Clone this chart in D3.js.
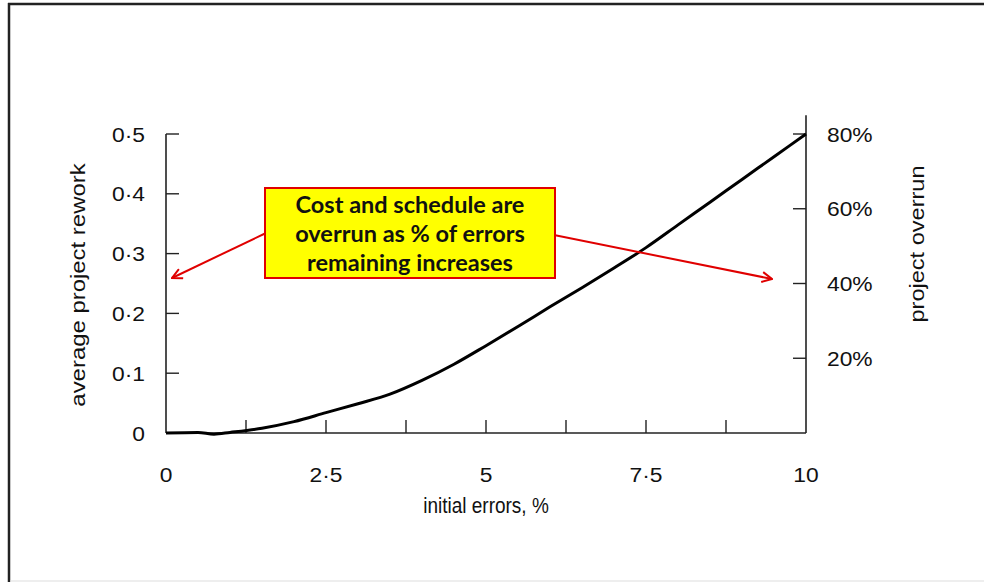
<!DOCTYPE html>
<html><head><meta charset="utf-8">
<script src="https://cdn.jsdelivr.net/npm/d3@7"></script>
<style>
html,body{margin:0;padding:0;background:#fff;}
svg{display:block;}
</style></head>
<body>
<svg id="chart" width="984" height="582"></svg>
<script>
// ---- data ----
const errorsPct = [0, 0.5, 0.75, 1, 1.5, 2, 2.5, 3, 3.5, 4, 4.5, 5, 5.5, 6, 6.5, 7, 7.5, 8, 8.5, 9, 9.5, 10];
const avgRework = [0, 0.001, -0.002, 0.001, 0.008, 0.019, 0.034, 0.049, 0.065, 0.088, 0.115, 0.146, 0.178, 0.211, 0.243, 0.276, 0.31, 0.348, 0.386, 0.424, 0.462, 0.5];
const xTickValues = [0, 1.25, 2.5, 3.75, 5, 6.25, 7.5, 8.75, 10];
const xTickLabels = ["0", "2·5", "5", "7·5", "10"];
const xLabelValues = [0, 2.5, 5, 7.5, 10];
const leftTickValues = [0, 0.1, 0.2, 0.3, 0.4, 0.5];
const leftTickLabels = ["0", "0·1", "0·2", "0·3", "0·4", "0·5"];
const rightTickValues = [20, 40, 60, 80];
const rightTickLabels = ["20%", "40%", "60%", "80%"];
const calloutLines = ["Cost and schedule are", "overrun as % of errors", "remaining increases"];

const svg = d3.select("#chart");
const axisFont = "'Liberation Sans', Arial, Helvetica, sans-serif";

// frame
svg.append("line").attr("x1", 8).attr("x2", 984).attr("y1", 4).attr("y2", 4).attr("stroke", "#222").attr("stroke-width", 2.5);
svg.append("line").attr("x1", 9).attr("x2", 9).attr("y1", 3).attr("y2", 582).attr("stroke", "#222").attr("stroke-width", 2.5);
svg.append("line").attr("x1", 10).attr("x2", 984).attr("y1", 581).attr("y2", 581).attr("stroke", "#ddd").attr("stroke-width", 1);

// scales
const x = d3.scaleLinear().domain([0, 10]).range([166, 806]);
const yL = d3.scaleLinear().domain([0, 0.5]).range([433, 134]);
const yR = d3.scaleLinear().domain([0, 80]).range([433, 134]);

const axisColor = "#222";
const tickLen = 13;
const sx = 1.2; // glyph widening for tick labels (scan look)
const sy = 1.1;

function label(g, tx, ty, txt, anchor) {
  g.append("text")
    .attr("transform", `translate(${tx},${ty}) scale(${sx},${sy})`)
    .attr("dy", "0.36em").attr("text-anchor", anchor)
    .attr("font-family", axisFont).attr("font-size", 19).attr("fill", "#111")
    .text(txt);
}

// left axis
const gL = svg.append("g").attr("transform", `translate(${x(0)},0)`);
gL.append("line").attr("x1", 0).attr("x2", 0).attr("y1", yL(0)).attr("y2", yL(0.5)).attr("stroke", axisColor).attr("stroke-width", 1.6);
gL.selectAll("line.t").data(leftTickValues.filter(d => d > 0)).join("line").attr("class", "t")
  .attr("x1", 0).attr("x2", tickLen).attr("y1", d => yL(d)).attr("y2", d => yL(d))
  .attr("stroke", axisColor).attr("stroke-width", 1.4);
leftTickValues.forEach((d, i) => label(gL, -21, yL(d), leftTickLabels[i], "end"));

// right axis
const gR = svg.append("g").attr("transform", `translate(${x(10)},0)`);
gR.append("line").attr("x1", 0).attr("x2", 0).attr("y1", yR(0)).attr("y2", yR(85)).attr("stroke", axisColor).attr("stroke-width", 1.6);
gR.selectAll("line.t").data(rightTickValues).join("line").attr("class", "t")
  .attr("x1", 0).attr("x2", -tickLen).attr("y1", d => yR(d)).attr("y2", d => yR(d))
  .attr("stroke", axisColor).attr("stroke-width", 1.4);
rightTickValues.forEach((d, i) => label(gR, 21, yR(d), rightTickLabels[i], "start"));

// bottom axis
const gB = svg.append("g");
gB.append("line").attr("x1", x(0)).attr("x2", x(10)).attr("y1", yL(0)).attr("y2", yL(0)).attr("stroke", axisColor).attr("stroke-width", 1.6);
gB.selectAll("line.t").data(xTickValues.filter(d => d > 0 && d < 10)).join("line").attr("class", "t")
  .attr("x1", d => x(d)).attr("x2", d => x(d)).attr("y1", yL(0)).attr("y2", yL(0) - tickLen)
  .attr("stroke", axisColor).attr("stroke-width", 1.4);
xLabelValues.forEach((d, i) => label(gB, x(d), 474, xTickLabels[i], "middle"));

// axis titles
svg.append("text").attr("transform", "translate(78,285) rotate(-90) scale(1.26,1.05)").attr("text-anchor", "middle").attr("dy", "0.36em")
  .attr("font-family", axisFont).attr("font-size", 19).attr("fill", "#111").text("average project rework");
svg.append("text").attr("transform", "translate(917,244) rotate(-90) scale(1.24,1.05)").attr("text-anchor", "middle").attr("dy", "0.36em")
  .attr("font-family", axisFont).attr("font-size", 19).attr("fill", "#111").text("project overrun");
svg.append("text").attr("transform", `translate(${x(5)},505) scale(1,1.15)`).attr("text-anchor", "middle").attr("dy", "0.36em")
  .attr("font-family", axisFont).attr("font-size", 19).attr("fill", "#111").text("initial errors, %");

// curve
const pts = errorsPct.map((e, i) => [e, avgRework[i]]);
svg.append("path").datum(pts)
  .attr("d", d3.line().x(d => x(d[0])).y(d => yL(d[1])).curve(d3.curveMonotoneX))
  .attr("fill", "none").attr("stroke", "#000").attr("stroke-width", 3).attr("stroke-linejoin", "round");

// callout arrows
const defs = svg.append("defs");
defs.append("marker").attr("id", "arr").attr("viewBox", "0 0 12 12").attr("refX", 11).attr("refY", 6)
  .attr("markerWidth", 12).attr("markerHeight", 12).attr("markerUnits", "userSpaceOnUse").attr("orient", "auto")
  .append("path").attr("d", "M1,1 L11,6 L1,11").attr("fill", "none").attr("stroke", "#e00000").attr("stroke-width", 2);
svg.append("line").attr("x1", 266).attr("y1", 233).attr("x2", 172).attr("y2", 278)
  .attr("stroke", "#e00000").attr("stroke-width", 2).attr("marker-end", "url(#arr)");
svg.append("line").attr("x1", 554).attr("y1", 235).attr("x2", 772).attr("y2", 279)
  .attr("stroke", "#e00000").attr("stroke-width", 2).attr("marker-end", "url(#arr)");

// callout box
svg.append("rect").attr("x", 265).attr("y", 188).attr("width", 290).attr("height", 90)
  .attr("fill", "#ffff00").attr("stroke", "#e00000").attr("stroke-width", 2);
svg.selectAll("text.callout").data(calloutLines).join("text").attr("class", "callout")
  .attr("x", 410).attr("y", (d, i) => 205 + i * 29).attr("dy", "0.36em").attr("text-anchor", "middle")
  .attr("font-family", "Lato, 'Open Sans', sans-serif").attr("font-weight", 700).attr("font-size", 23.5).attr("fill", "#111")
  .text(d => d);
</script>
</body></html>
